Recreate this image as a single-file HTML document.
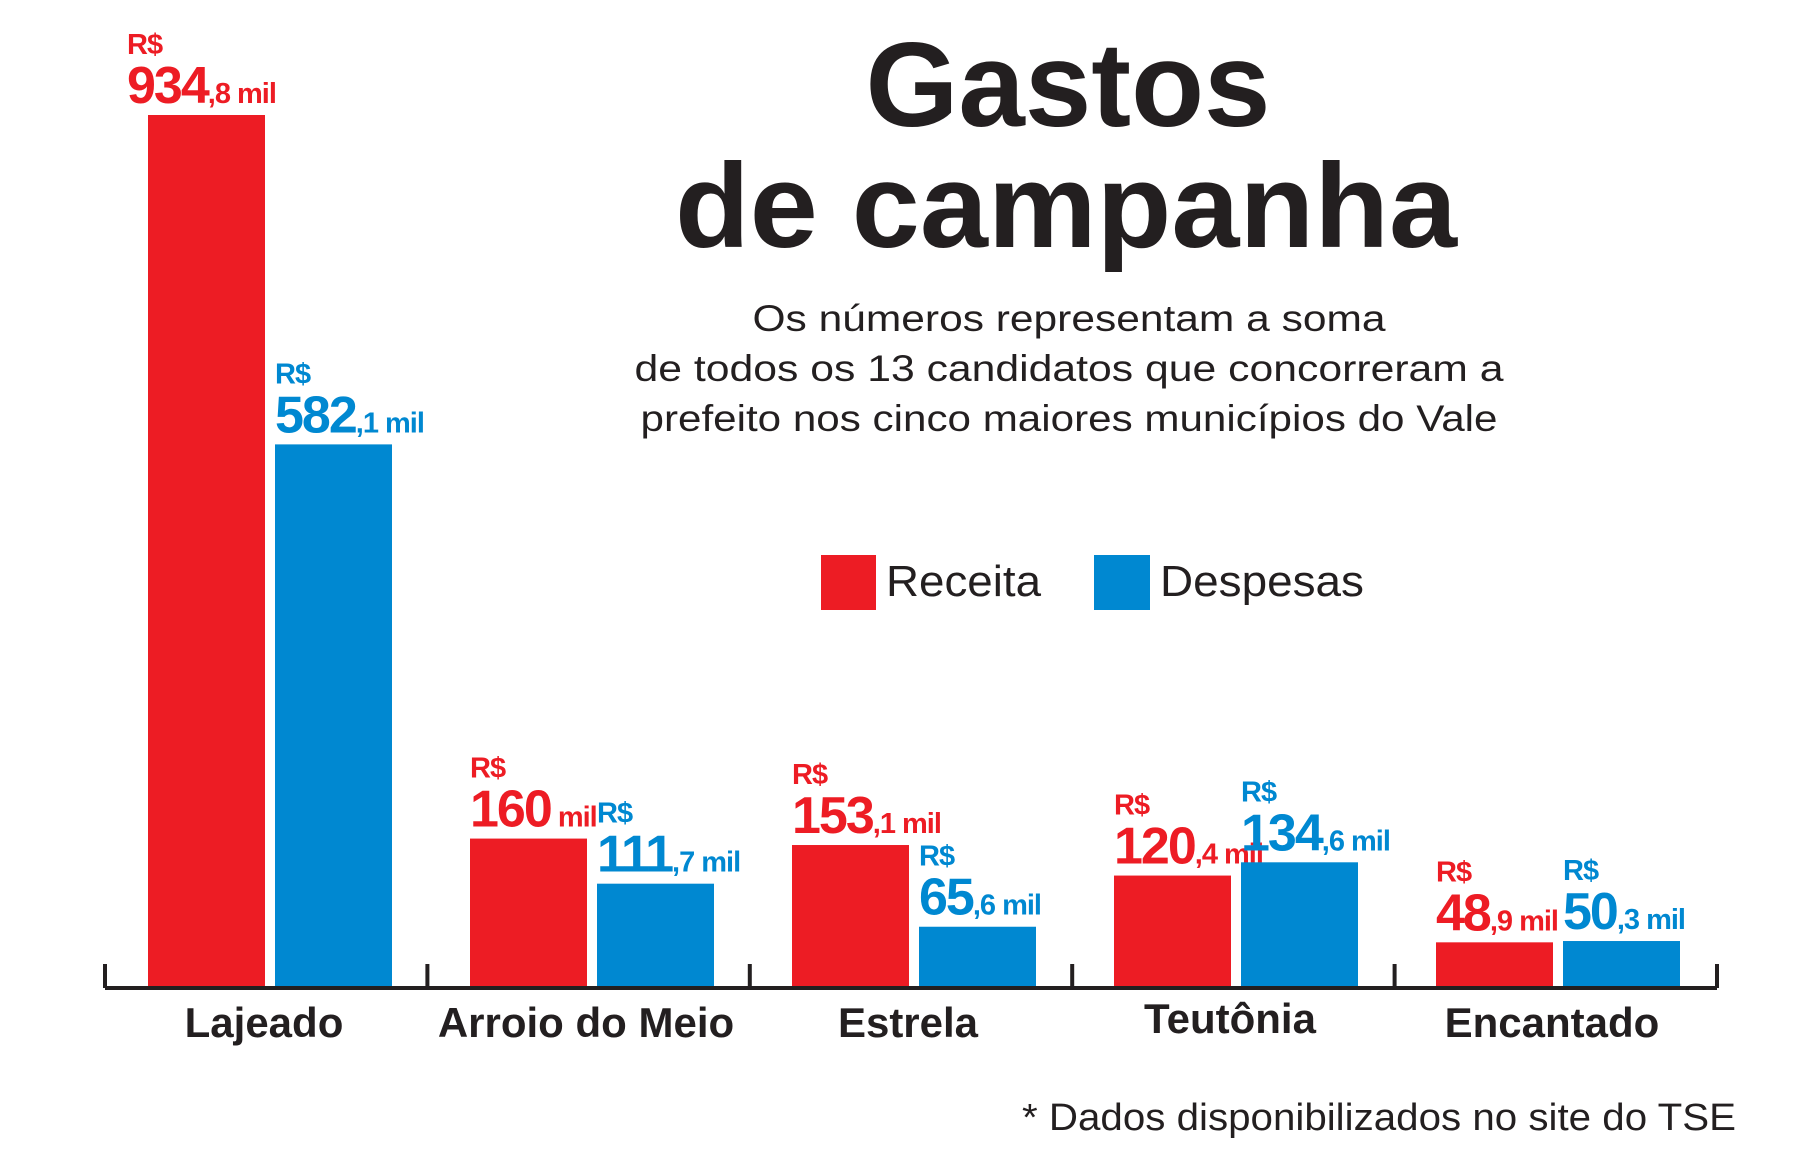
<!DOCTYPE html>
<html><head><meta charset="utf-8">
<style>
html,body{margin:0;padding:0;background:#fff;}
svg{display:block;}
text{font-family:"Liberation Sans Narrow","Liberation Sans",sans-serif;}
</style></head>
<body>
<svg id="chart" width="1819" height="1165" viewBox="0 0 1819 1165" xmlns="http://www.w3.org/2000/svg">
  <text x="1068" y="126" text-anchor="middle" font-size="120" font-weight="bold" fill="#231f20" font-family="Liberation Sans, sans-serif" textLength="405" lengthAdjust="spacingAndGlyphs">Gastos</text>
  <text x="1066" y="247" text-anchor="middle" font-size="120" font-weight="bold" fill="#231f20" font-family="Liberation Sans, sans-serif" textLength="782" lengthAdjust="spacingAndGlyphs">de campanha</text>
  <g fill="#231f20" font-size="37">
    <text x="1069" y="331" text-anchor="middle" textLength="633" lengthAdjust="spacingAndGlyphs">Os números representam a soma</text>
    <text x="1069" y="381" text-anchor="middle" textLength="869" lengthAdjust="spacingAndGlyphs">de todos os 13 candidatos  que concorreram a</text>
    <text x="1069" y="431" text-anchor="middle" textLength="857" lengthAdjust="spacingAndGlyphs">prefeito nos cinco maiores municípios do Vale</text>
  </g>
  <g>
    <rect x="821" y="555" width="55" height="55" fill="#ed1c24"/>
    <text x="886" y="596" font-size="44" fill="#231f20" textLength="155" lengthAdjust="spacingAndGlyphs">Receita</text>
    <rect x="1094" y="555" width="56" height="55" fill="#0088d1"/>
    <text x="1160" y="596" font-size="44" fill="#231f20" textLength="204" lengthAdjust="spacingAndGlyphs">Despesas</text>
  </g>
  <g id="bars"></g>
  <g id="axis"></g>
  <text x="1736" y="1130" text-anchor="end" font-size="38" fill="#231f20" textLength="714" lengthAdjust="spacingAndGlyphs">* Dados disponibilizados no site do TSE</text>
</svg>
<script>
const categories = ["Lajeado", "Arroio do Meio", "Estrela", "Teutônia", "Encantado"];
const receita = [934.8, 160, 153.1, 120.4, 48.9];
const despesas = [582.1, 111.7, 65.6, 134.6, 50.3];
const receitaInt = ["934", "160", "153", "120", "48"];
const receitaDec = [",8 mil", " mil", ",1 mil", ",4 mil", ",9 mil"];
const despesasInt = ["582", "111", "65", "134", "50"];
const despesasDec = [",1 mil", ",7 mil", ",6 mil", ",6 mil", ",3 mil"];

const NS = "http://www.w3.org/2000/svg";
const axisY = 988, pxPerUnit = (988 - 115) / 934.8;
const groupStart = 148, groupStep = 322, barW = 117, barGap = 10;
function yScale(v){ return axisY - v * pxPerUnit; }
function xGroup(i){ return groupStart + i * groupStep; }
function mk(tag, attrs){ const e = document.createElementNS(NS, tag); for (const k in attrs) e.setAttribute(k, attrs[k]); return e; }

const bars = document.getElementById("bars");
function drawBar(i, v, series, color, intTxt, decTxt){
  const x = xGroup(i) + (series === "despesas" ? barW + barGap : 0);
  const y = yScale(v);
  const r = mk("rect", {x: x, y: y, width: barW, height: axisY - y, fill: color});
  
  
  bars.appendChild(r);
  const lx = x + (i === 0 && series === "receita" ? -21 : 0);
  const cur = mk("text", {x: lx, y: y - 61, "font-size": 29, "font-weight": "bold", fill: color, "letter-spacing": "-1"});
  cur.textContent = "R$";
  
  
  bars.appendChild(cur);
  const val = mk("text", {x: lx, y: y - 12, fill: color, "font-weight": "bold", "letter-spacing": "-2"});
  const a = mk("tspan", {"font-size": 52}); a.textContent = intTxt;
  const b = mk("tspan", {"font-size": 29, "letter-spacing": "-1"}); b.textContent = decTxt;
  val.appendChild(a); val.appendChild(b);
  
  
  bars.appendChild(val);
}
for (let i = 0; i < categories.length; i++){
  drawBar(i, receita[i], "receita", "#ed1c24", receitaInt[i], receitaDec[i]);
  drawBar(i, despesas[i], "despesas", "#0088d1", despesasInt[i], despesasDec[i]);
}

const axis = document.getElementById("axis");
const line = mk("line", {x1: 105, x2: 1717, y1: axisY, y2: axisY, stroke: "#231f20", "stroke-width": 4});


axis.appendChild(line);
for (let i = 0; i <= categories.length; i++){
  const tx = 105 + i * 322.4;
  const t = mk("line", {x1: tx, x2: tx, y1: axisY - 24, y2: axisY, stroke: "#231f20", "stroke-width": 4});
  
  
  axis.appendChild(t);
}
for (let i = 0; i < categories.length; i++){
  const cx = xGroup(i) + barW + barGap / 2 - 6;
  const lbl = mk("text", {x: cx, y: i === 3 ? 1033 : 1037, "text-anchor": "middle", "font-size": 42, "font-weight": "bold", fill: "#231f20"});
  lbl.textContent = categories[i];
  
  
  axis.appendChild(lbl);
}
</script>
</body></html>
